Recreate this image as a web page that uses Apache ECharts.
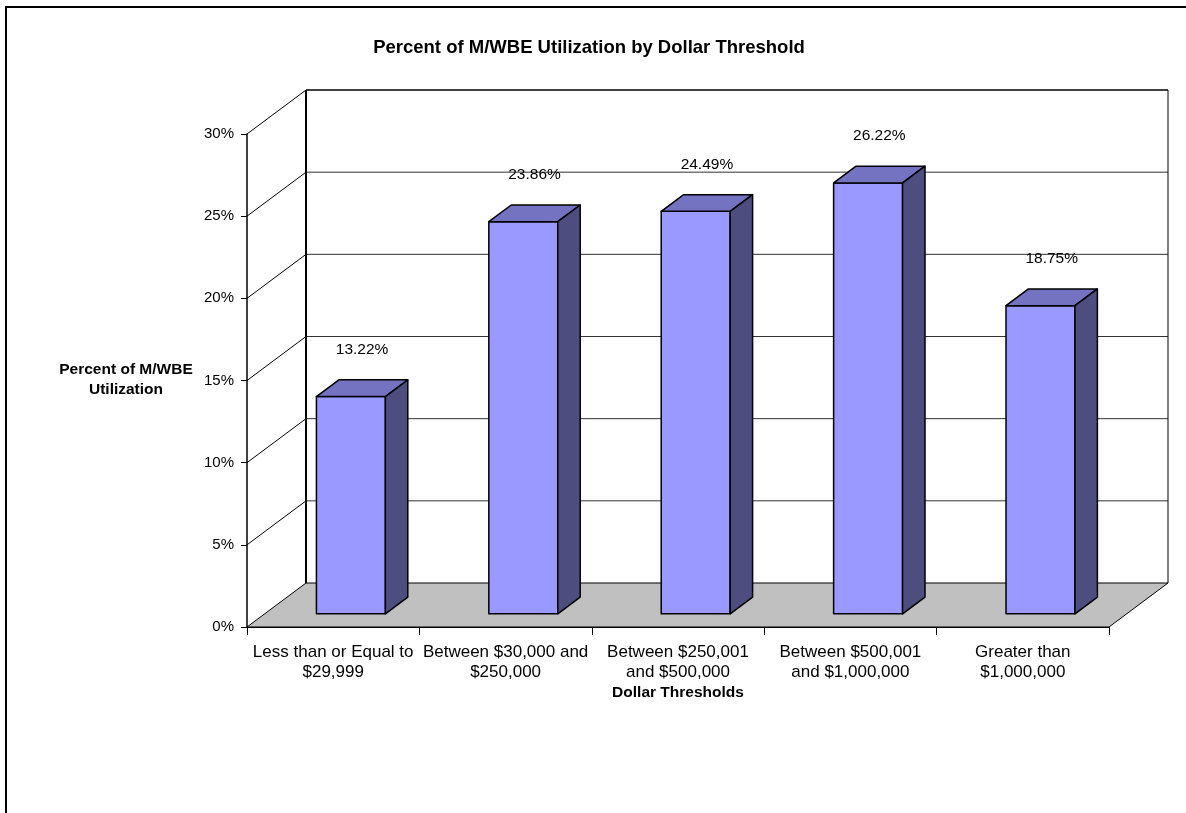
<!DOCTYPE html>
<html>
<head>
<meta charset="utf-8">
<title>Percent of M/WBE Utilization by Dollar Threshold</title>
<script src="https://cdn.jsdelivr.net/npm/echarts@6/dist/echarts.min.js"></script>
<style>
  html, body { margin: 0; padding: 0; background: #ffffff; }
  #chart { width: 1186px; height: 813px; }
</style>
</head>
<body>
<div id="chart"></div>
<script>
// Dollar threshold buckets (x axis)
const categories = [
  'Less than or Equal to\n$29,999',
  'Between $30,000 and\n$250,000',
  'Between $250,001\nand $500,000',
  'Between $500,001\nand $1,000,000',
  'Greater than\n$1,000,000'
];
// Percent of M/WBE utilization per bucket
const utilization = [13.22, 23.86, 24.49, 26.22, 18.75];
// Value axis range (percent)
const yMin = 0;
const yMax = 30;
const yStep = 5;

const FONT = '"Liberation Sans", Arial, Helvetica, sans-serif';

// Pseudo-3D geometry: depth vector of the plot box and bar slab inside it
const DEPTH_X = 59;
const DEPTH_Y = 44;
const BAR_D0 = 0.30;   // bar front face depth fraction
const BAR_D1 = 0.68;   // bar back face depth fraction
const BAR_W = 0.40;    // bar width as share of category band

const chart = echarts.init(document.getElementById('chart'), null, { renderer: 'canvas' });

function yTickValues() {
  const out = [];
  for (let v = yMin; v <= yMax + 1e-9; v += yStep) out.push(v);
  return out;
}

// Walls, floor and gridlines of the 3D box
function renderBox(params, api) {
  const cs = params.coordSys;
  const x0 = cs.x, x1 = cs.x + cs.width;
  const yb = api.coord([0, yMin])[1];
  const yt = api.coord([0, yMax])[1];
  const children = [];

  // floor
  children.push({
    type: 'polygon',
    shape: { points: [[x0, yb], [x0 + DEPTH_X, yb - DEPTH_Y], [x1 + DEPTH_X, yb - DEPTH_Y], [x1, yb]] },
    style: { fill: '#c0c0c0', stroke: '#000', lineWidth: 1 }
  });

  // back wall gridlines and side wall diagonals
  yTickValues().forEach(function (v) {
    const y = api.coord([0, v])[1];
    if (v > yMin) {
      children.push({
        type: 'line',
        shape: { x1: x0, y1: y, x2: x0 + DEPTH_X, y2: y - DEPTH_Y },
        style: { stroke: '#000', lineWidth: 1 }
      });
      children.push({
        type: 'line',
        shape: { x1: x0 + DEPTH_X, y1: y - DEPTH_Y, x2: x1 + DEPTH_X, y2: y - DEPTH_Y },
        style: { stroke: v === yMax ? '#000' : '#333', lineWidth: v === yMax ? 1.5 : 1 }
      });
    }
  });

  // back wall verticals
  children.push({
    type: 'line',
    shape: { x1: x0 + DEPTH_X, y1: yt - DEPTH_Y, x2: x0 + DEPTH_X, y2: yb - DEPTH_Y },
    style: { stroke: '#000', lineWidth: 2 }
  });
  children.push({
    type: 'line',
    shape: { x1: x1 + DEPTH_X, y1: yt - DEPTH_Y, x2: x1 + DEPTH_X, y2: yb - DEPTH_Y },
    style: { stroke: '#000', lineWidth: 1 }
  });

  return { type: 'group', children: children };
}

// 3D bar: front face, top face, right side, plus value label
function renderBar(params, api) {
  const idx = api.value(0);
  const val = api.value(1);
  const base = api.coord([idx, yMin]);
  const top = api.coord([idx, val]);
  const band = api.size([1, 0])[0];
  const w = band * BAR_W;

  const fx = base[0] - w / 2 + BAR_D0 * DEPTH_X;
  const fyb = base[1] - BAR_D0 * DEPTH_Y;
  const fyt = top[1] - BAR_D0 * DEPTH_Y;
  const ddx = (BAR_D1 - BAR_D0) * DEPTH_X;
  const ddy = (BAR_D1 - BAR_D0) * DEPTH_Y;
  const stroke = { stroke: '#000', lineWidth: 1.5, lineJoin: 'round' };

  return {
    type: 'group',
    children: [
      {
        type: 'rect',
        shape: { x: fx, y: fyt, width: w, height: fyb - fyt },
        style: Object.assign({ fill: '#9999ff' }, stroke)
      },
      {
        type: 'polygon',
        shape: { points: [[fx, fyt], [fx + ddx, fyt - ddy], [fx + w + ddx, fyt - ddy], [fx + w, fyt]] },
        style: Object.assign({ fill: '#7373c2' }, stroke)
      },
      {
        type: 'polygon',
        shape: { points: [[fx + w, fyt], [fx + w + ddx, fyt - ddy], [fx + w + ddx, fyb - ddy], [fx + w, fyb]] },
        style: Object.assign({ fill: '#4d4d80' }, stroke)
      },
      {
        type: 'text',
        x: fx + w / 2 + ddx / 2,
        y: fyt - 47,
        style: {
          text: val.toFixed(2) + '%',
          fill: '#000',
          font: '15.5px ' + FONT,
          align: 'center',
          verticalAlign: 'middle'
        }
      }
    ]
  };
}

const option = {
  backgroundColor: '#ffffff',
  animation: false,
  grid: { left: 247, top: 134, width: 862, height: 493, containLabel: false },
  xAxis: {
    type: 'category',
    data: categories,
    boundaryGap: true,
    axisLine: { show: true, lineStyle: { color: '#000', width: 1 } },
    axisTick: { show: true, length: 8, interval: 0, lineStyle: { color: '#000', width: 1 } },
    axisLabel: {
      interval: 0,
      margin: 15,
      color: '#000',
      fontFamily: FONT,
      fontSize: 17,
      lineHeight: 20,
      align: 'center'
    },
    splitLine: { show: false }
  },
  yAxis: {
    type: 'value',
    min: yMin,
    max: yMax,
    interval: yStep,
    axisLine: { show: true, lineStyle: { color: '#000', width: 1.5 } },
    axisTick: { show: true, length: 6, lineStyle: { color: '#000', width: 1 } },
    axisLabel: {
      formatter: '{value}%',
      margin: 13,
      color: '#000',
      fontFamily: FONT,
      fontSize: 15
    },
    splitLine: { show: false }
  },
  graphic: [
    {
      type: 'rect',
      shape: { x: 6, y: 7, width: 1300, height: 1000 },
      style: { fill: 'none', stroke: '#000', lineWidth: 2 },
      silent: true
    },
    {
      type: 'text',
      x: 589,
      y: 48,
      style: {
        text: 'Percent of M/WBE Utilization by Dollar Threshold',
        font: 'bold 18.5px ' + FONT,
        fill: '#000',
        align: 'center',
        verticalAlign: 'middle'
      }
    },
    {
      type: 'text',
      x: 126,
      y: 380,
      style: {
        text: 'Percent of M/WBE\nUtilization',
        font: 'bold 15.5px ' + FONT,
        lineHeight: 20,
        fill: '#000',
        align: 'center',
        verticalAlign: 'middle'
      }
    },
    {
      type: 'text',
      x: 678,
      y: 693,
      style: {
        text: 'Dollar Thresholds',
        font: 'bold 15.5px ' + FONT,
        fill: '#000',
        align: 'center',
        verticalAlign: 'middle'
      }
    }
  ],
  series: [
    {
      type: 'custom',
      name: 'box',
      z: 1,
      silent: true,
      renderItem: renderBox,
      data: [[0, 0]],
      encode: { x: 0, y: 1 }
    },
    {
      type: 'custom',
      name: 'Percent of M/WBE Utilization',
      z: 3,
      renderItem: renderBar,
      data: utilization.map(function (v, i) { return [i, v]; }),
      encode: { x: 0, y: 1 }
    }
  ]
};

chart.setOption(option);
</script>
</body>
</html>
